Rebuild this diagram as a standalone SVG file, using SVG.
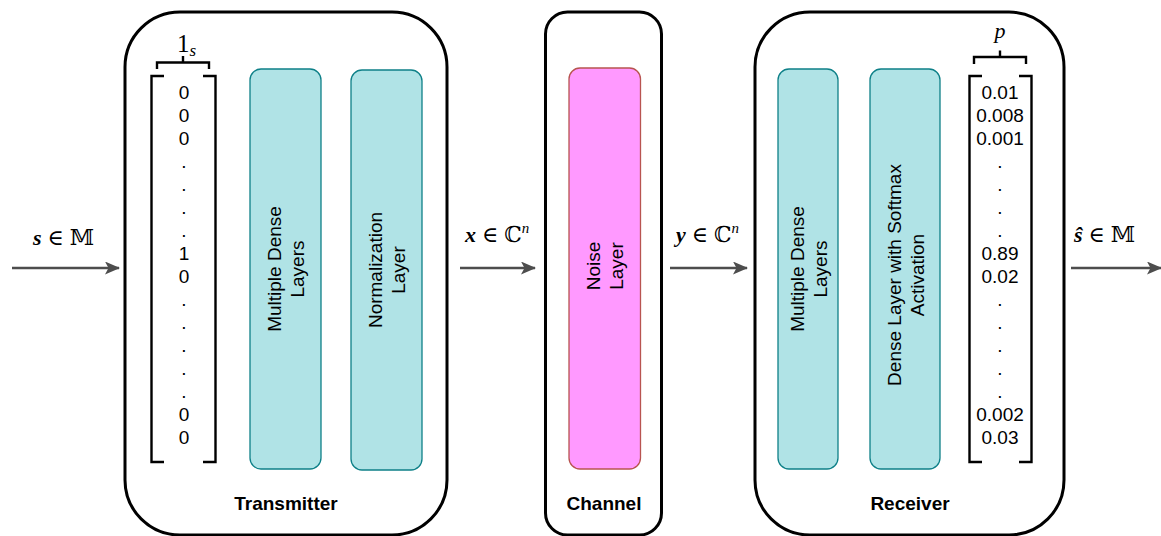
<svg xmlns="http://www.w3.org/2000/svg" width="1161" height="536" viewBox="0 0 1161 536">
  <defs>
    <marker id="arrow" viewBox="0 0 15 13" refX="14" refY="6.5" markerWidth="15" markerHeight="13" markerUnits="userSpaceOnUse" orient="auto">
      <path d="M0,0 L15,6.5 L0,13 L3.5,6.5 Z" fill="#4d4d4d"/>
    </marker>
    <style>
      .outer { fill: #ffffff; stroke: #000000; stroke-width: 3; }
      .dense { fill: #b0e3e6; stroke: #0e8088; stroke-width: 1.3; }
      .noise { fill: #ff99ff; stroke: #b85450; stroke-width: 1.3; }
      .label { font-family: "Liberation Sans", Arial, sans-serif; font-size: 19px; fill: #000000; text-anchor: middle; }
      .title { font-family: "Liberation Sans", Arial, sans-serif; font-size: 19px; font-weight: bold; fill: #000000; text-anchor: middle; }
      .vec { font-family: "Liberation Sans", Arial, sans-serif; font-size: 19px; fill: #000000; text-anchor: middle; }
      .math { font-family: "Liberation Serif", "DejaVu Serif", serif; font-size: 22px; fill: #000000; }
      .bracket { fill: none; stroke: #000000; stroke-width: 2.4; }
      .edge { fill: none; stroke: #4d4d4d; stroke-width: 2.5; marker-end: url(#arrow); }
    </style>
  </defs>

  <!-- Transmitter block -->
  <g id="transmitter">
    <rect class="outer" x="125" y="12" width="322" height="523" rx="55" ry="55"/>
    <text class="title" x="286" y="510">Transmitter</text>
  </g>

  <!-- One-hot input vector 1_s -->
  <g id="onehot-vector">
    <path class="bracket" d="M157,69 V62.5 H209 V69 M183,56 V62.5"/>
    <text class="math" x="177" y="52" style="font-size:25px">1<tspan font-style="italic" style="font-size:17px" dy="4">s</tspan></text>
    <path class="bracket" d="M164,76 H151.5 V462 H164"/>
    <path class="bracket" d="M203,76 H215.5 V462 H203"/>
    <text class="vec" x="184" y="99">0</text>
    <text class="vec" x="184" y="122">0</text>
    <text class="vec" x="184" y="145">0</text>
    <text class="vec" x="184" y="168">.</text>
    <text class="vec" x="184" y="191">.</text>
    <text class="vec" x="184" y="214">.</text>
    <text class="vec" x="184" y="237">.</text>
    <text class="vec" x="184" y="260">1</text>
    <text class="vec" x="184" y="283">0</text>
    <text class="vec" x="184" y="306">.</text>
    <text class="vec" x="184" y="329">.</text>
    <text class="vec" x="184" y="352">.</text>
    <text class="vec" x="184" y="375">.</text>
    <text class="vec" x="184" y="398">.</text>
    <text class="vec" x="184" y="421">0</text>
    <text class="vec" x="184" y="444">0</text>
  </g>

  <g id="tx-dense">
    <rect class="dense" x="250" y="69" width="71" height="400" rx="11" ry="11"/>
    <text class="label" transform="translate(285.5,269) rotate(-90)"><tspan x="0" y="-4.5">Multiple Dense</tspan><tspan x="0" y="18.5">Layers</tspan></text>
  </g>

  <g id="tx-norm">
    <rect class="dense" x="351" y="70" width="71" height="400" rx="11" ry="11"/>
    <text class="label" transform="translate(386.5,270) rotate(-90)"><tspan x="0" y="-4.5">Normalization</tspan><tspan x="0" y="18.5">Layer</tspan></text>
  </g>

  <!-- Channel block -->
  <g id="channel">
    <rect class="outer" x="545.5" y="12" width="116" height="523" rx="22" ry="22"/>
    <text class="title" x="604" y="510">Channel</text>
  </g>

  <g id="noise-layer">
    <rect class="noise" x="569" y="68" width="71.5" height="401" rx="11" ry="11"/>
    <text class="label" transform="translate(604.5,266) rotate(-90)"><tspan x="0" y="-4.5">Noise</tspan><tspan x="0" y="18.5">Layer</tspan></text>
  </g>

  <!-- Receiver block -->
  <g id="receiver">
    <rect class="outer" x="755" y="12" width="309" height="523" rx="55" ry="55"/>
    <text class="title" x="910" y="510">Receiver</text>
  </g>

  <g id="rx-dense">
    <rect class="dense" x="778" y="69" width="60" height="400" rx="11" ry="11"/>
    <text class="label" transform="translate(808,269) rotate(-90)"><tspan x="0" y="-4.5">Multiple Dense</tspan><tspan x="0" y="18.5">Layers</tspan></text>
  </g>

  <g id="rx-softmax">
    <rect class="dense" x="870" y="69" width="70" height="400" rx="11" ry="11"/>
    <text class="label" transform="translate(905,275) rotate(-90)"><tspan x="0" y="-4.5">Dense Layer with Softmax</tspan><tspan x="0" y="18.5">Activation</tspan></text>
  </g>

  <!-- Output probability vector p -->
  <g id="prob-vector">
    <path class="bracket" d="M974,64 V57 H1026 V64 M1000,50.5 V57"/>
    <text class="math" x="1000" y="38" text-anchor="middle" font-style="italic">p</text>
    <path class="bracket" d="M982,76 H969.5 V462 H982"/>
    <path class="bracket" d="M1019,76 H1031.5 V462 H1019"/>
    <text class="vec" x="1000" y="99">0.01</text>
    <text class="vec" x="1000" y="122">0.008</text>
    <text class="vec" x="1000" y="145">0.001</text>
    <text class="vec" x="1000" y="168">.</text>
    <text class="vec" x="1000" y="191">.</text>
    <text class="vec" x="1000" y="214">.</text>
    <text class="vec" x="1000" y="237">.</text>
    <text class="vec" x="1000" y="260">0.89</text>
    <text class="vec" x="1000" y="283">0.02</text>
    <text class="vec" x="1000" y="306">.</text>
    <text class="vec" x="1000" y="329">.</text>
    <text class="vec" x="1000" y="352">.</text>
    <text class="vec" x="1000" y="375">.</text>
    <text class="vec" x="1000" y="398">.</text>
    <text class="vec" x="1000" y="421">0.002</text>
    <text class="vec" x="1000" y="444">0.03</text>
  </g>

  <!-- Signal flow between blocks -->
  <g id="connectors">
    <line class="edge" x1="12" y1="268" x2="119" y2="268"/>
    <line class="edge" x1="460" y1="268" x2="535" y2="268"/>
    <line class="edge" x1="670" y1="268" x2="747" y2="268"/>
    <line class="edge" x1="1071" y1="268" x2="1161" y2="268"/>
    <text class="math" x="33" y="245"><tspan font-style="italic" font-weight="bold">s</tspan><tspan dx="6">∈</tspan><tspan dx="6">𝕄</tspan></text>
    <text class="math" x="465" y="242"><tspan font-style="italic" font-weight="bold">x</tspan><tspan dx="6">∈</tspan><tspan dx="6">ℂ</tspan><tspan font-style="italic" font-size="15" dy="-9">n</tspan></text>
    <text class="math" x="676" y="242"><tspan font-style="italic" font-weight="bold">y</tspan><tspan dx="6">∈</tspan><tspan dx="6">ℂ</tspan><tspan font-style="italic" font-size="15" dy="-9">n</tspan></text>
    <text class="math" x="1074" y="242"><tspan font-style="italic" font-weight="bold">ŝ</tspan><tspan dx="6">∈</tspan><tspan dx="6">𝕄</tspan></text>
  </g>
</svg>
